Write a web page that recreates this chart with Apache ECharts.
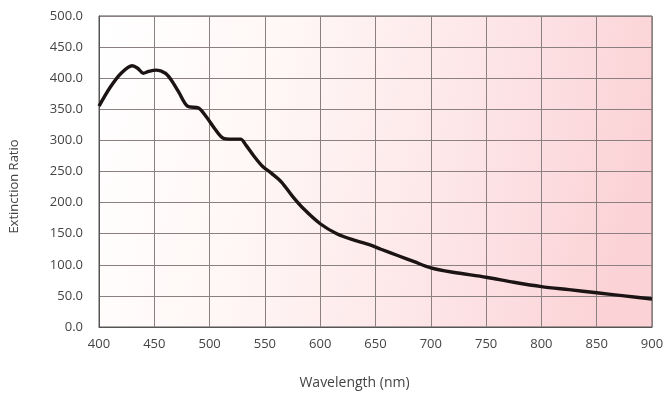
<!DOCTYPE html>
<html>
<head>
<meta charset="utf-8">
<script src="https://cdn.jsdelivr.net/npm/echarts@6/dist/echarts.min.js"></script>
<style>
  html, body { margin: 0; padding: 0; background: #fff; }
  #chart { width: 668px; height: 395px; }
</style>
</head>
<body>
<div id="chart"></div>
<script>
// wavelength (nm) and extinction ratio
var wavelengths = [400, 410, 420, 430, 435, 440, 445, 452, 460, 465, 472, 480, 490, 497,
    505, 512, 520, 528, 533, 540, 548, 556, 565, 575, 585, 600, 615, 630, 645, 655,
    670, 685, 700, 720, 750, 775, 800, 825, 850, 875, 900];
var ratios = [355, 385, 408, 420, 416, 408, 411, 413, 408, 398, 378, 355, 352, 338,
    318, 304, 302, 302, 292, 275, 258, 247, 233, 210, 190, 166, 150, 140, 132, 125,
    115, 105, 95, 88, 80, 72, 65, 60, 55, 50, 45];

var xTicks = [400, 450, 500, 550, 600, 650, 700, 750, 800, 850, 900];
var yTicks = [0, 50, 100, 150, 200, 250, 300, 350, 400, 450, 500];

function DrawChart() {
    var chart = echarts.init(document.getElementById('chart'));
    var points = wavelengths.map(function (w, i) { return [w, ratios[i]]; });
    var labelFont = {
        color: '#444',
        fontSize: 13,
        fontFamily: 'Open Sans'
    };
    var option = {
        animation: false,
        grid: {
            left: 97,
            right: 16,
            top: 16,
            bottom: 65,
            show: true,
            borderColor: '#555',
            borderWidth: 1,
            // white on the left fading to pink at the lower right
            backgroundColor: new echarts.graphic.LinearGradient(0, 0, 1, 0.45, [
                { offset: 0, color: '#ffffff' },
                { offset: 0.3, color: '#fff8f7' },
                { offset: 0.65, color: '#fde7e9' },
                { offset: 1, color: '#fbd2d5' }
            ])
        },
        xAxis: {
            type: 'value',
            min: xTicks[0],
            max: xTicks[xTicks.length - 1],
            interval: 50,
            name: 'Wavelength (nm)',
            nameLocation: 'middle',
            nameGap: 49,
            nameTextStyle: {
                color: '#444',
                fontSize: 14,
                fontFamily: 'Open Sans',
                padding: [0, 42, 0, 0]
            },
            axisLine: { lineStyle: { color: '#555', width: 1 } },
            axisTick: { show: false },
            axisLabel: Object.assign({ margin: 11 }, labelFont),
            splitLine: { lineStyle: { color: '#8a8080', width: 1 } }
        },
        yAxis: {
            type: 'value',
            min: yTicks[0],
            max: yTicks[yTicks.length - 1],
            interval: 50,
            name: 'Extinction Ratio',
            nameLocation: 'middle',
            nameGap: 78,
            nameTextStyle: {
                color: '#444',
                fontSize: 13,
                fontFamily: 'Open Sans',
                padding: [0, 30, 0, 0]
            },
            axisLine: { show: true, lineStyle: { color: '#555', width: 1 } },
            axisTick: { show: false },
            axisLabel: Object.assign({
                margin: 16,
                formatter: function (v) { return v.toFixed(1); }
            }, labelFont),
            splitLine: { lineStyle: { color: '#8a8080', width: 1 } }
        },
        series: [{
            type: 'line',
            data: points,
            smooth: 0.3,
            showSymbol: false,
            lineStyle: { color: '#1c1414', width: 3.4 }
        }]
    };
    chart.setOption(option);
}

DrawChart();
</script>
</body>
</html>
